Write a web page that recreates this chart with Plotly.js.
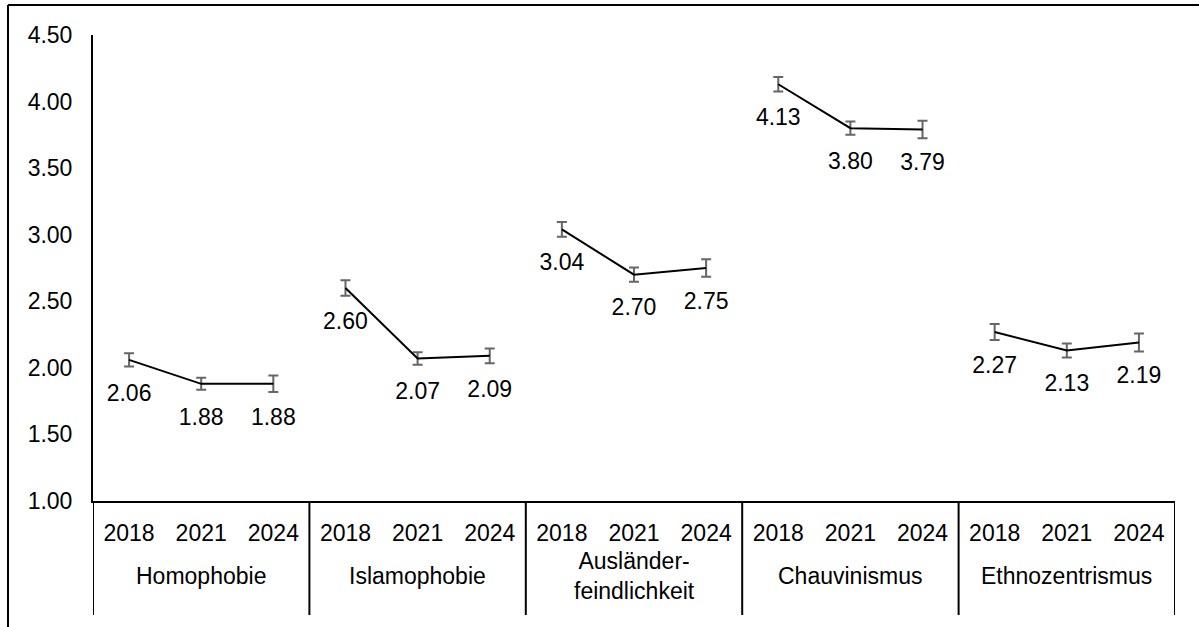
<!DOCTYPE html>
<html><head><meta charset="utf-8">
<script src="https://cdn.plot.ly/plotly-3.0.1.min.js"></script>
<style>html,body{margin:0;padding:0;background:#fff;}#chart{width:1199px;height:627px;}</style>
</head><body><div id="chart"></div>
<script>
const groups = ["Homophobie", "Islamophobie", "Ausländer-<br>feindlichkeit", "Chauvinismus", "Ethnozentrismus"];
const years = ["2018", "2021", "2024"];
const homophobie = [2.06, 1.88, 1.88];
const islamophobie = [2.60, 2.07, 2.09];
const auslaender = [3.04, 2.70, 2.75];
const chauvinismus = [4.13, 3.80, 3.79];
const ethnozentrismus = [2.27, 2.13, 2.19];
const errHomophobie = [0.05, 0.045, 0.062];
const errIslamophobie = [0.058, 0.047, 0.056];
const errAuslaender = [0.056, 0.053, 0.065];
const errChauvinismus = [0.055, 0.05, 0.066];
const errEthnozentrismus = [0.06, 0.053, 0.068];

const series = [homophobie, islamophobie, auslaender, chauvinismus, ethnozentrismus];
const errs = [errHomophobie, errIslamophobie, errAuslaender, errChauvinismus, errEthnozentrismus];

const W = 1199, H = 627;
const M = {l: 93, r: 24, t: 35, b: 126};
const pw = W - M.l - M.r, ph = H - M.t - M.b;
const FS = 23;
const FONT = "Liberation Sans, Arial, sans-serif";
const nY = years.length;

const traces = groups.map((g, i) => ({
  type: "scatter",
  mode: "lines+markers+text",
  x: years.map((_, j) => i * nY + j),
  y: series[i],
  text: series[i].map(v => v.toFixed(2)),
  textposition: "bottom center",
  textfont: {family: FONT, size: FS, color: "#000"},
  line: {color: "#000", width: 2},
  marker: {size: 36, color: "rgba(0,0,0,0)"},
  error_y: {type: "data", array: errs[i], visible: true, color: "#666666", thickness: 2, width: 5},
  showlegend: false,
  hoverinfo: "skip",
  cliponaxis: false
}));

const px2x = p => (p - M.l) / pw;
const py2y = p => (H - M.b - p) / ph;

const tickvals = [], ticktext = [];
groups.forEach((g, i) => years.forEach((y, j) => { tickvals.push(i * nY + j); ticktext.push(y); }));

const shapes = [
  {type: "line", xref: "paper", yref: "paper", x0: px2x(8), x1: px2x(1199), y0: py2y(5), y1: py2y(5), line: {color: "#000", width: 2}},
  {type: "line", xref: "paper", yref: "paper", x0: px2x(8), x1: px2x(8), y0: py2y(5), y1: py2y(627), line: {color: "#000", width: 2}}
];
for (let i = 0; i <= groups.length; i++) {
  shapes.push({type: "line", xref: "x", yref: "paper", x0: i * nY - 0.5, x1: i * nY - 0.5, y0: 0, y1: py2y(615), line: {color: "#000", width: 2}});
}
const annotations = groups.map((g, i) => ({
  xref: "x", yref: "paper", x: i * nY + (nY - 1) / 2, y: py2y(576),
  text: g, showarrow: false, xanchor: "center", yanchor: "middle",
  font: {family: FONT, size: FS, color: "#000"}
}));

const layout = {
  width: W, height: H,
  margin: M,
  paper_bgcolor: "#fff", plot_bgcolor: "#fff",
  font: {family: FONT, size: FS, color: "#000"},
  showlegend: false,
  xaxis: {
    range: [-0.5, groups.length * nY - 0.5],
    tickmode: "array", tickvals: tickvals, ticktext: ticktext,
    showline: true, linecolor: "#000", linewidth: 2,
    showgrid: false, zeroline: false, ticks: "",
    ticklabelstandoff: 10,
    tickfont: {family: FONT, size: FS, color: "#000"}
  },
  yaxis: {
    range: [1, 4.5], dtick: 0.5, tick0: 1, tickformat: ".2f",
    showline: true, linecolor: "#000", linewidth: 2,
    showgrid: false, zeroline: false, ticks: "",
    ticklabelstandoff: 14,
    tickfont: {family: FONT, size: FS, color: "#000"}
  },
  shapes: shapes,
  annotations: annotations
};

Plotly.newPlot("chart", traces, layout, {staticPlot: true, displayModeBar: false});
</script></body></html>
